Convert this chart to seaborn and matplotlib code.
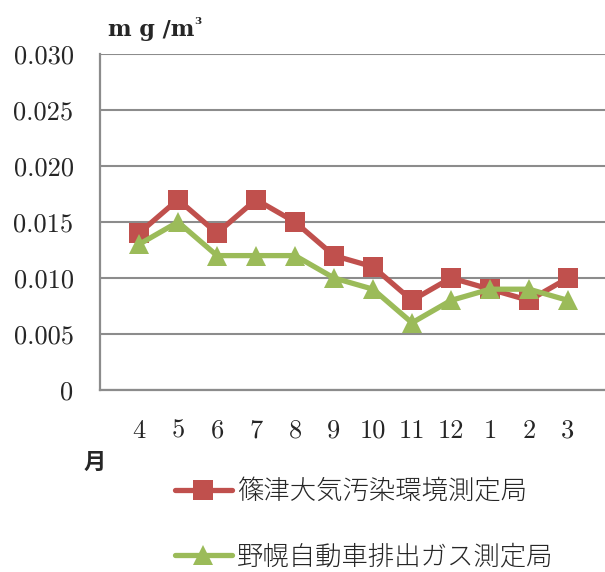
import matplotlib
matplotlib.use("Agg")
import matplotlib.pyplot as plt
import seaborn as sns
import pandas as pd
from matplotlib.lines import Line2D

months = ["4", "5", "6", "7", "8", "9", "10", "11", "12", "1", "2", "3"]
shinotsu = [0.014, 0.017, 0.014, 0.017, 0.015, 0.012, 0.011, 0.008, 0.010, 0.009, 0.008, 0.010]
nopporo = [0.013, 0.015, 0.012, 0.012, 0.012, 0.010, 0.009, 0.006, 0.008, 0.009, 0.009, 0.008]
series_names = ["篠津大気汚染環境測定局", "野幌自動車排出ガス測定局"]
yticks = [0, 0.005, 0.010, 0.015, 0.020, 0.025, 0.030]
ytick_labels = ["0", "0.005", "0.010", "0.015", "0.020", "0.025", "0.030"]

sns.set_style("white")
plt.rcParams["font.family"] = ["Noto Sans CJK JP", "DejaVu Sans"]
plt.rcParams["axes.formatter.use_mathtext"] = True

red = "#C0504D"
green = "#9BBB59"
grid_c = "#8C8C8C"

fig = plt.figure(figsize=(6.05, 5.72), dpi=100)
ax = fig.add_axes([100 / 605, 1 - 390 / 572, 507 / 605, 336 / 572])

pos = list(range(len(months)))
df = pd.DataFrame({"pos": pos * 2,
                   "value": shinotsu + nopporo,
                   "station": [series_names[0]] * 12 + [series_names[1]] * 12})

sns.lineplot(data=df[df.station == series_names[0]], x="pos", y="value",
             color=red, lw=3.8, marker="s", markersize=14, markeredgewidth=0,
             ax=ax, legend=False, zorder=3)
sns.lineplot(data=df[df.station == series_names[1]], x="pos", y="value",
             color=green, lw=3.8, marker="^", markersize=15, markeredgewidth=0,
             ax=ax, legend=False, zorder=4)

ax.set_xlim(-1, 12)
ax.set_ylim(0, 0.030)
ax.set_yticks(yticks)
ax.set_yticklabels(ytick_labels, fontfamily="cmr10", fontsize=19)
ax.set_xticks(pos)
ax.set_xticklabels(months, fontfamily="cmr10", fontsize=19)
ax.set_xlabel("")
ax.set_ylabel("")

ax.yaxis.grid(True, color=grid_c, lw=1.5)
ax.set_axisbelow(True)
for side in ("top", "right"):
    ax.spines[side].set_visible(False)
for side in ("left", "bottom"):
    ax.spines[side].set_color(grid_c)
    ax.spines[side].set_linewidth(1.6)

ax.tick_params(axis="y", length=0, pad=19)
ax.tick_params(axis="x", direction="in", length=6, width=1.2, color=grid_c, pad=21)

# unit label and month label
fig.text(108 / 605, 1 - 30 / 572, "m g /m", fontfamily="DejaVu Serif",
         fontweight="bold", fontsize=16, va="center", ha="left")
fig.text(194 / 605, 1 - 22 / 572, "3", fontfamily="DejaVu Serif",
         fontweight="bold", fontsize=7.5, va="center", ha="left")
fig.text(84 / 605, 1 - 462 / 572, "月", fontweight="bold", fontsize=16,
         va="center", ha="left")

handles = [
    Line2D([], [], color=red, lw=3.8, marker="s", markersize=14, markeredgewidth=0),
    Line2D([], [], color=green, lw=3.8, marker="^", markersize=15, markeredgewidth=0),
]
fig.legend(handles, series_names, loc="upper left",
           bbox_to_anchor=(175 / 605, 1 - 477 / 572), frameon=False,
           prop={"size": 19, "weight": "light"}, handlelength=2.15,
           handletextpad=0.2, labelspacing=1.42, borderaxespad=0, borderpad=0)

fig.savefig("out.png", dpi=100)
